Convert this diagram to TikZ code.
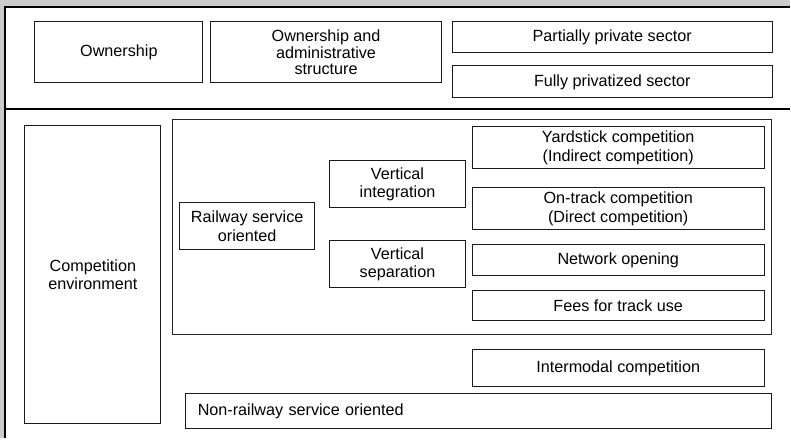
\documentclass[tikz,border=0pt]{standalone}
\usepackage{fontspec}
\setmainfont{Liberation Sans}
\usetikzlibrary{positioning}
\definecolor{cBack}{RGB}{204,204,204}
\definecolor{cLine}{RGB}{25,25,25}
\tikzset{
	box/.style   ={rectangle, draw=cLine, line width=1pt, align=center, inner sep=0pt, fill=white},
	tightbox/.style={box, font=\fontsize{16.2}{16.3}\selectfont},
	frameline/.style={draw=black, line width=2pt},
}
\begin{document}
\begin{tikzpicture}[x=1pt, y=-1pt, font=\fontsize{16.2}{18.5}\selectfont]
	% background and frame
	\fill[cBack] (0,0) rectangle (791,439);
	\fill[white] (5,7) rectangle (791,439);
	\draw[frameline] (5,439) -- (5,7) -- (791,7);
	\draw[frameline] (5,109) -- (791,109);
	\useasboundingbox (0,0) rectangle (791,439);
	% ownership part
	\node[box, minimum width=168pt, minimum height=61pt] (own) at (119,52.5) {Ownership};
	\node[tightbox, minimum width=231pt, minimum height=61pt] (adm) at (326.5,52.5) {Ownership and\\ administrative\\ structure};
	\node[box, minimum width=320pt, minimum height=31pt] (part) at (613,37.5) {Partially private sector};
	\node[box, minimum width=320pt, minimum height=32pt] (full) at (613,82) {Fully privatized sector};
	% competition part
	\node[box, minimum width=136pt, minimum height=298pt] (comp) at (93,275) {Competition\\ environment};
	\node[box, draw=black!85, minimum width=599pt, minimum height=215pt] (rail) at (472.5,227.5) {};
	\node[box, minimum width=135pt, minimum height=47pt] (rso) at (247.5,226.5) {Railway service\\ oriented};
	\node[box, minimum width=136pt, minimum height=47pt] (vint) at (398,184.5) {Vertical\\ integration};
	\node[box, minimum width=136pt, minimum height=47pt] (vsep) at (398,264.5) {Vertical\\ separation};
	\node[box, minimum width=292pt, minimum height=42pt] (yard) at (619,148) {Yardstick competition\\ (Indirect competition)};
	\node[box, minimum width=292pt, minimum height=42pt] (track) at (619,209) {On-track competition\\ (Direct competition)};
	\node[box, minimum width=292pt, minimum height=31pt] (net) at (619,260.5) {Network opening};
	\node[box, minimum width=292pt, minimum height=30pt] (fees) at (619,306) {Fees for track use};
	\node[box, minimum width=292pt, minimum height=37pt] (inter) at (619,368.5) {Intermodal competition};
	\node[box, minimum width=586pt, minimum height=35pt, text width=562pt, inner xsep=12pt, align=left] (nonrail) at (479,411.5) {Non-railway service oriented};
\end{tikzpicture}
\end{document}
